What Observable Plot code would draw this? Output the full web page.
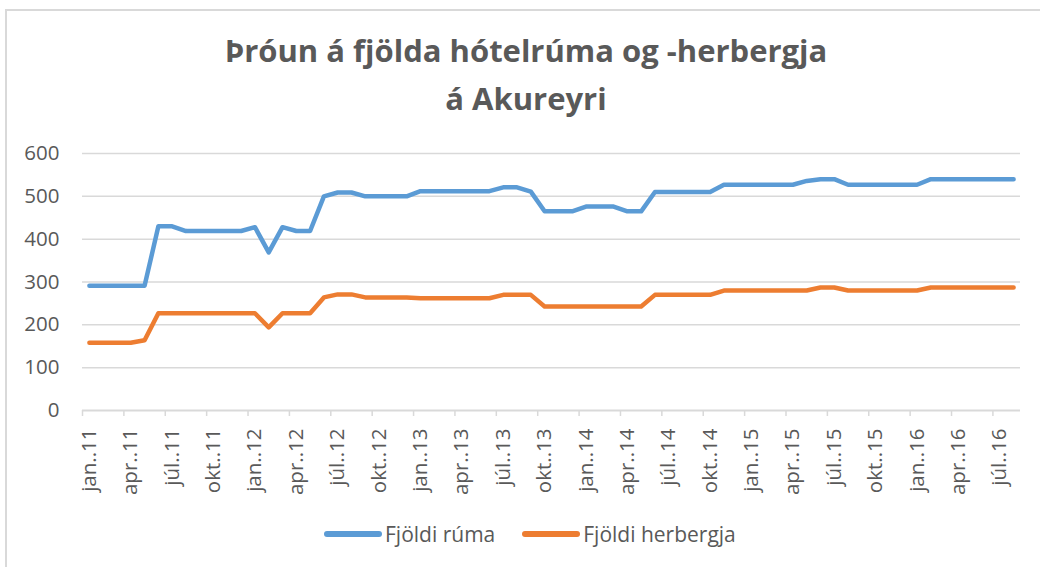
<!DOCTYPE html>
<html><head><meta charset="utf-8">
<script src="https://cdn.jsdelivr.net/npm/d3@7"></script>
<script src="https://cdn.jsdelivr.net/npm/@observablehq/plot@0.6"></script>
<style>
html,body{margin:0;padding:0;width:1040px;height:567px;overflow:hidden;background:#fff;font-family:"Open Sans",sans-serif;}
#frame{position:absolute;left:5px;top:9px;width:1100px;height:700px;border:2px solid #d9d9d9;box-sizing:border-box;}
#title{position:absolute;left:6px;top:26px;width:1040px;text-align:center;font-weight:bold;font-size:31px;line-height:48px;color:#595959;}
#chart{position:absolute;left:0;top:125px;}
#chart svg text{font-size:20.5px;fill:#595959;}
#legend{position:absolute;left:324px;top:522px;height:24px;display:flex;align-items:center;font-size:21px;color:#595959;}
.item{display:flex;align-items:center;margin-right:27px;}
.sw{width:58px;height:6px;margin-right:3px;}
</style>
</head><body>
<div id="frame"></div>
<div id="title">Þróun á fjölda hótelrúma og -herbergja<br>á Akureyri</div>
<div id="chart"></div>
<div id="legend"></div>
<script>
// Monthly data, jan 2011 – ágú 2016 (68 months)
const seriesNames = ["Fjöldi rúma", "Fjöldi herbergja"];
const seriesColors = ["#5B9BD5", "#ED7D31"];
const rooms = [
  291, 291, 291, 291, 291, 430, 430, 419, 419, 419, 419, 419,
  428, 369, 428, 419, 419, 500, 509, 509, 500, 500, 500, 500,
  512, 512, 512, 512, 512, 512, 521, 521, 511, 465, 465, 465,
  476, 476, 476, 465, 465, 510, 510, 510, 510, 510, 527, 527,
  527, 527, 527, 527, 536, 540, 540, 527, 527, 527, 527, 527,
  527, 540, 540, 540, 540, 540, 540, 540
];
const herbergi = [
  158, 158, 158, 158, 164, 227, 227, 227, 227, 227, 227, 227,
  227, 194, 227, 227, 227, 264, 271, 271, 264, 264, 264, 264,
  262, 262, 262, 262, 262, 262, 270, 270, 270, 243, 243, 243,
  243, 243, 243, 243, 243, 270, 270, 270, 270, 270, 280, 280,
  280, 280, 280, 280, 280, 287, 287, 280, 280, 280, 280, 280,
  280, 287, 287, 287, 287, 287, 287, 287
];
const tickLabels = [
  "jan..11","apr..11","júl..11","okt..11",
  "jan..12","apr..12","júl..12","okt..12",
  "jan..13","apr..13","júl..13","okt..13",
  "jan..14","apr..14","júl..14","okt..14",
  "jan..15","apr..15","júl..15","okt..15",
  "jan..16","apr..16","júl..16"
];
const yTicks = [0, 100, 200, 300, 400, 500, 600];

const labelPos = tickLabels.map((d, k) => k * 3);
const boundaryPos = labelPos.map(p => p - 0.5);

const data = [];
rooms.forEach((v, i) => data.push({i, v, s: seriesNames[0]}));
herbergi.forEach((v, i) => data.push({i, v, s: seriesNames[1]}));

const chart = Plot.plot({
  width: 1040,
  height: 380,
  marginLeft: 82,
  marginRight: 20,
  marginTop: 28,
  marginBottom: 95,
  x: {domain: [-0.5, rooms.length - 0.5]},
  y: {domain: [0, 600]},
  color: {domain: seriesNames, range: seriesColors},
  style: {fontFamily: "Open Sans, sans-serif", fontSize: "20px", color: "#595959", background: "transparent", overflow: "visible"},
  marks: [
    Plot.gridY({ticks: yTicks.filter(d => d > 0), stroke: "#d9d9d9", strokeOpacity: 1, strokeWidth: 1.5}),
    Plot.ruleY([0], {stroke: "#d9d9d9", strokeWidth: 2}),
    Plot.axisY({ticks: yTicks, tickSize: 0, tickPadding: 23, label: null, fontSize: 20}),
    Plot.axisX({ticks: boundaryPos, tickSize: 6, tickFormat: () => "", stroke: "#d9d9d9", strokeWidth: 1.5, label: null}),
    Plot.axisX({ticks: labelPos, tickSize: 0, tickPadding: 18, tickRotate: -90, tickFormat: (d) => tickLabels[Math.round(d / 3)], label: null, fontSize: 20}),
    Plot.line(data, {x: "i", y: "v", z: "s", stroke: "s", strokeWidth: 4.5, strokeLinejoin: "round", strokeLinecap: "round"})
  ]
});
document.getElementById("chart").appendChild(chart);

const legend = document.getElementById("legend");
seriesNames.forEach((name, k) => {
  const item = document.createElement("div");
  item.className = "item";
  const sw = document.createElement("div");
  sw.className = "sw";
  sw.style.background = seriesColors[k];
  sw.style.borderRadius = "3px";
  const t = document.createElement("span");
  t.textContent = name;
  item.appendChild(sw);
  item.appendChild(t);
  legend.appendChild(item);
});
</script>
</body></html>
